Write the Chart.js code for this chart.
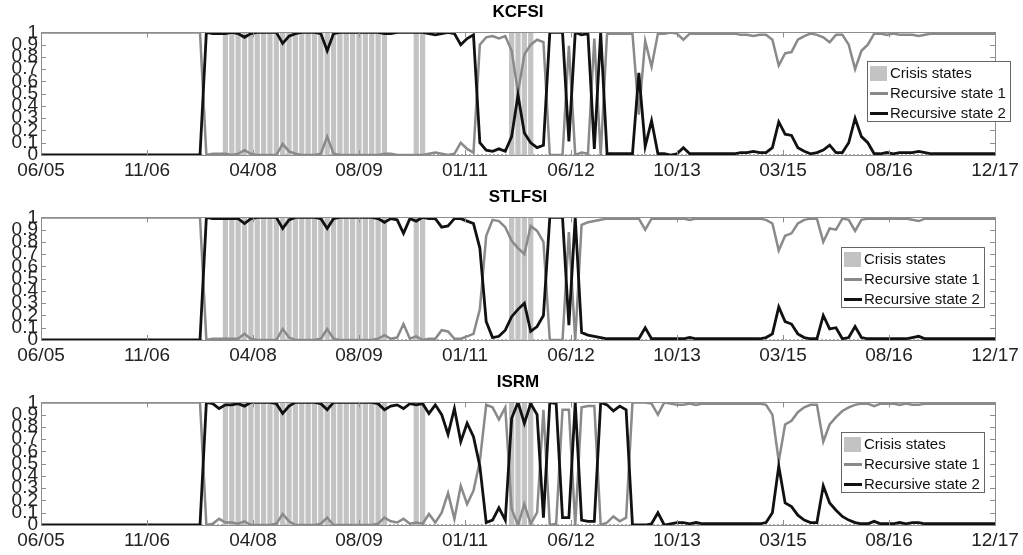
<!DOCTYPE html>
<html>
<head>
<meta charset="utf-8">
<script src="https://cdn.jsdelivr.net/npm/chart.js@4.4.0/dist/chart.umd.min.js"></script>
<style>
  html, body { margin: 0; padding: 0; background: #fff; }
  #wrap { position: relative; width: 1023px; height: 555px; }
  #wrap canvas { position: absolute; left: 0; }
  .legend {
    position: absolute; width: 144px; height: 61px; box-sizing: border-box;
    border: 1px solid #666; background: #fff; padding-top: 1px;
    font: 15px "Liberation Sans", Arial, sans-serif; color: #111;
  }
  .legend .row { position: relative; height: 20px; line-height: 20px; padding-left: 22px; white-space: nowrap; }
  .legend .sw { position: absolute; left: 2px; }
</style>
</head>
<body>
<div id="wrap">
  <canvas id="c0" width="1023" height="185" style="top:0"></canvas>
  <canvas id="c1" width="1023" height="185" style="top:185px"></canvas>
  <canvas id="c2" width="1023" height="185" style="top:370px"></canvas>
</div>
<script>
// monthly, 06/2005 .. 12/2017 (index 0..150)
const panelTitles = ['KCFSI', 'STLFSI', 'ISRM'];
const seriesNames = ['Crisis states', 'Recursive state 1', 'Recursive state 2'];

const xTickPos = [0, 16.67, 33.33, 50, 66.67, 83.33, 100, 116.67, 133.33, 150];
const xTickLabels = ['06/05', '11/06', '04/08', '08/09', '01/11', '06/12', '10/13', '03/15', '08/16', '12/17'];

// months flagged as crisis (same in all three panels)
const crisisMonths = [29, 30, 31, 32, 33, 34, 35, 36, 37, 38, 39, 40, 41, 42, 43, 44, 45, 46, 47, 48,
  49, 50, 51, 52, 53, 54, 59, 60, 74, 75, 76, 77];

const kcfsiState1 = [
  1, 1, 1, 1, 1, 1, 1, 1, 1, 1,
  1, 1, 1, 1, 1, 1, 1, 1, 1, 1,
  1, 1, 1, 1, 1, 1, 0, 0.01, 0.01, 0.01,
  0, 0.01, 0.04, 0.01, 0, 0, 0, 0, 0.09, 0.03,
  0.01, 0, 0, 0, 0.01, 0.15, 0.01, 0, 0, 0,
  0, 0, 0, 0, 0.01, 0.01, 0, 0, 0, 0,
  0, 0.01, 0.02, 0.01, 0, 0.01, 0.1, 0.05, 0.02, 0.9,
  0.96, 0.97, 0.95, 0.97, 0.85, 0.51, 0.82, 0.9, 0.94, 0.92,
  0, 0, 0, 0.89, 0, 0.02, 0.01, 0.95, 0, 0.99,
  0.99, 0.99, 0.99, 0.99, 0.33, 0.93, 0.72, 0.99, 0.99, 1,
  0.99, 0.94, 0.99, 0.99, 0.99, 0.99, 0.99, 0.99, 0.99, 0.99,
  0.98, 0.98, 0.97, 0.98, 0.98, 0.94, 0.73, 0.83, 0.84, 0.94,
  0.97, 0.99, 0.98, 0.96, 0.92, 0.98, 0.98, 0.9, 0.7, 0.85,
  0.9, 0.99, 0.99, 0.98, 0.99, 0.98, 0.98, 0.98, 0.97, 0.98,
  0.99, 0.99, 0.99, 0.99, 0.99, 0.99, 0.99, 0.99, 0.99, 0.99,
  0.99];
const kcfsiState2 = [
  0, 0, 0, 0, 0, 0, 0, 0, 0, 0,
  0, 0, 0, 0, 0, 0, 0, 0, 0, 0,
  0, 0, 0, 0, 0, 0, 1, 0.99, 0.99, 0.99,
  1, 0.99, 0.96, 0.99, 1, 1, 1, 1, 0.91, 0.97,
  0.99, 1, 1, 1, 0.99, 0.85, 0.99, 1, 1, 1,
  1, 1, 1, 1, 0.99, 0.99, 1, 1, 1, 1,
  1, 0.99, 0.98, 0.99, 1, 0.99, 0.9, 0.95, 0.98, 0.1,
  0.04, 0.03, 0.05, 0.03, 0.15, 0.49, 0.18, 0.1, 0.06, 0.08,
  1, 1, 1, 0.11, 1, 0.98, 0.99, 0.05, 1, 0.01,
  0.01, 0.01, 0.01, 0.01, 0.67, 0.07, 0.28, 0.01, 0.01, 0,
  0.01, 0.06, 0.01, 0.01, 0.01, 0.01, 0.01, 0.01, 0.01, 0.01,
  0.02, 0.02, 0.03, 0.02, 0.02, 0.06, 0.27, 0.17, 0.16, 0.06,
  0.03, 0.01, 0.02, 0.04, 0.08, 0.02, 0.02, 0.1, 0.3, 0.15,
  0.1, 0.01, 0.01, 0.02, 0.01, 0.02, 0.02, 0.02, 0.03, 0.02,
  0.01, 0.01, 0.01, 0.01, 0.01, 0.01, 0.01, 0.01, 0.01, 0.01,
  0.01];

const stlfsiState1 = [
  1, 1, 1, 1, 1, 1, 1, 1, 1, 1,
  1, 1, 1, 1, 1, 1, 1, 1, 1, 1,
  1, 1, 1, 1, 1, 1, 0, 0.01, 0.01, 0.01,
  0.01, 0.01, 0.05, 0.01, 0, 0, 0, 0, 0.09, 0.02,
  0, 0, 0, 0, 0.01, 0.09, 0.01, 0, 0, 0,
  0, 0, 0, 0.01, 0.04, 0.01, 0.02, 0.13, 0.01, 0.03,
  0, 0.01, 0.01, 0.08, 0.07, 0.01, 0.01, 0.03, 0.05, 0.25,
  0.85, 0.98, 0.97, 0.92, 0.81, 0.75, 0.7, 0.93, 0.89, 0.8,
  0, 0, 0, 0.88, 0, 0.94, 0.96, 0.97, 0.98, 0.99,
  0.99, 0.99, 0.99, 0.99, 0.99, 0.9, 0.99, 0.99, 0.99, 0.99,
  0.99, 0.99, 0.98, 0.99, 0.99, 0.99, 0.99, 0.99, 0.99, 0.99,
  0.99, 0.99, 0.99, 0.99, 0.98, 0.95, 0.73, 0.85, 0.87, 0.95,
  0.98, 0.99, 0.99, 0.8, 0.91, 0.9, 0.99, 0.98, 0.89, 0.98,
  0.99, 0.99, 0.99, 0.99, 0.99, 0.99, 0.99, 0.98, 0.97, 0.99,
  0.99, 0.99, 0.99, 0.99, 0.99, 0.99, 0.99, 0.99, 0.99, 0.99,
  0.99];
const stlfsiState2 = [
  0, 0, 0, 0, 0, 0, 0, 0, 0, 0,
  0, 0, 0, 0, 0, 0, 0, 0, 0, 0,
  0, 0, 0, 0, 0, 0, 1, 0.99, 0.99, 0.99,
  0.99, 0.99, 0.95, 0.99, 1, 1, 1, 1, 0.91, 0.98,
  1, 1, 1, 1, 0.99, 0.91, 0.99, 1, 1, 1,
  1, 1, 1, 0.99, 0.96, 0.99, 0.98, 0.87, 0.99, 0.97,
  1, 0.99, 0.99, 0.92, 0.93, 0.99, 0.99, 0.97, 0.95, 0.75,
  0.15, 0.02, 0.03, 0.08, 0.19, 0.25, 0.3, 0.07, 0.11, 0.2,
  1, 1, 1, 0.12, 1, 0.06, 0.04, 0.03, 0.02, 0.01,
  0.01, 0.01, 0.01, 0.01, 0.01, 0.1, 0.01, 0.01, 0.01, 0.01,
  0.01, 0.01, 0.02, 0.01, 0.01, 0.01, 0.01, 0.01, 0.01, 0.01,
  0.01, 0.01, 0.01, 0.01, 0.02, 0.05, 0.27, 0.15, 0.13, 0.05,
  0.02, 0.01, 0.01, 0.2, 0.09, 0.1, 0.01, 0.02, 0.11, 0.02,
  0.01, 0.01, 0.01, 0.01, 0.01, 0.01, 0.01, 0.02, 0.03, 0.01,
  0.01, 0.01, 0.01, 0.01, 0.01, 0.01, 0.01, 0.01, 0.01, 0.01,
  0.01];

const isrmState1 = [
  1, 1, 1, 1, 1, 1, 1, 1, 1, 1,
  1, 1, 1, 1, 1, 1, 1, 1, 1, 1,
  1, 1, 1, 1, 1, 1, 0, 0.01, 0.05, 0.02,
  0.02, 0.01, 0.03, 0, 0, 0, 0, 0.01, 0.09, 0.03,
  0, 0, 0, 0, 0.01, 0.06, 0, 0, 0, 0,
  0, 0, 0, 0.01, 0.06, 0.03, 0.02, 0.05, 0.01, 0.02,
  0.01, 0.09, 0.02, 0.1, 0.26, 0.05, 0.32, 0.17, 0.28, 0.52,
  0.98, 0.96, 0.86, 0.96, 0.13, 0, 0.17, 0.01, 0.1, 0.94,
  0, 0.01, 0.94, 0.94, 0, 0.96, 0.97, 0.97, 0, 0.02,
  0.07, 0.03, 0.06, 1, 1, 1, 0.99, 0.9, 1, 0.99,
  0.98, 0.98, 0.99, 0.98, 0.99, 0.99, 0.99, 0.99, 0.99, 0.99,
  0.99, 0.99, 0.99, 0.99, 0.98, 0.9, 0.52, 0.82, 0.85, 0.92,
  0.96, 0.98, 0.98, 0.68, 0.82, 0.88, 0.93, 0.96, 0.98, 0.99,
  0.99, 0.97, 0.99, 0.99, 0.99, 0.98, 0.99, 0.98, 0.98, 0.99,
  0.99, 0.99, 0.99, 0.99, 0.99, 0.99, 0.99, 0.99, 0.99, 0.99,
  0.99];
const isrmState2 = [
  0, 0, 0, 0, 0, 0, 0, 0, 0, 0,
  0, 0, 0, 0, 0, 0, 0, 0, 0, 0,
  0, 0, 0, 0, 0, 0, 1, 0.99, 0.95, 0.98,
  0.98, 0.99, 0.97, 1, 1, 1, 1, 0.99, 0.91, 0.97,
  1, 1, 1, 1, 0.99, 0.94, 1, 1, 1, 1,
  1, 1, 1, 0.99, 0.94, 0.97, 0.98, 0.95, 0.99, 0.98,
  0.99, 0.91, 0.98, 0.9, 0.74, 0.95, 0.68, 0.83, 0.72, 0.48,
  0.02, 0.04, 0.14, 0.04, 0.87, 1, 0.83, 0.99, 0.9, 0.06,
  1, 0.99, 0.06, 0.06, 1, 0.04, 0.03, 0.03, 1, 0.98,
  0.93, 0.97, 0.94, 0, 0, 0, 0.01, 0.1, 0, 0.01,
  0.02, 0.02, 0.01, 0.02, 0.01, 0.01, 0.01, 0.01, 0.01, 0.01,
  0.01, 0.01, 0.01, 0.01, 0.02, 0.1, 0.48, 0.18, 0.15, 0.08,
  0.04, 0.02, 0.02, 0.32, 0.18, 0.12, 0.07, 0.04, 0.02, 0.01,
  0.01, 0.03, 0.01, 0.01, 0.01, 0.02, 0.01, 0.02, 0.02, 0.01,
  0.01, 0.01, 0.01, 0.01, 0.01, 0.01, 0.01, 0.01, 0.01, 0.01,
  0.01];

const panels = [
  { title: panelTitles[0], s1: kcfsiState1, s2: kcfsiState2, legend: [867, 61] },
  { title: panelTitles[1], s1: stlfsiState1, s2: stlfsiState2, legend: [841, 247] },
  { title: panelTitles[2], s1: isrmState1, s2: isrmState2, legend: [841, 432] },
];

const FONT = '"Liberation Sans", Arial, sans-serif';
const GRAY_LINE = '#8a8a8a';
const BLACK_LINE = '#111111';
const CRISIS = '#c3c3c3';

// box around the plot + inward tick marks (matlab look)
const framePlugin = {
  id: 'frame',
  beforeDatasetsDraw(chart) {
    const { ctx, chartArea: a, scales: { y } } = chart;
    const y0 = Math.round(y.getPixelForValue(0)) - 0.5;
    ctx.save();
    ctx.strokeStyle = '#b5b5b5';
    ctx.lineWidth = 1;
    ctx.setLineDash([2, 2]);
    ctx.beginPath();
    ctx.moveTo(a.left, y0);
    ctx.lineTo(a.right, y0);
    ctx.stroke();
    ctx.restore();
  },
  afterDatasetsDraw(chart) {
    const { ctx, chartArea: a, scales: { x, y } } = chart;
    ctx.save();
    ctx.strokeStyle = '#8e8e8e';
    ctx.lineWidth = 1;
    ctx.strokeRect(Math.round(a.left) + 0.5, Math.round(a.top) + 0.5,
      Math.round(a.right - a.left), Math.round(a.bottom - a.top));
    ctx.beginPath();
    xTickPos.forEach((v) => {
      const px = Math.round(x.getPixelForValue(v)) + 0.5;
      ctx.moveTo(px, a.bottom); ctx.lineTo(px, a.bottom - 5);
      ctx.moveTo(px, a.top); ctx.lineTo(px, a.top + 5);
    });
    y.ticks.forEach((t) => {
      const py = Math.round(y.getPixelForValue(t.value)) + 0.5;
      ctx.moveTo(a.left, py); ctx.lineTo(a.left + 5, py);
      ctx.moveTo(a.right, py); ctx.lineTo(a.right - 5, py);
    });
    ctx.stroke();
    ctx.restore();
  },
};

function makeLegend(left, top) {
  const box = document.createElement('div');
  box.className = 'legend';
  box.style.left = left + 'px';
  box.style.top = top + 'px';
  const swatches = [
    `background:${CRISIS};top:3px;width:17px;height:15px`,
    `background:${GRAY_LINE};top:9px;width:18px;height:3px`,
    `background:${BLACK_LINE};top:9px;width:18px;height:3px`,
  ];
  seriesNames.forEach((name, i) => {
    const row = document.createElement('div');
    row.className = 'row';
    row.innerHTML = `<span class="sw" style="${swatches[i]}"></span>${name}`;
    box.appendChild(row);
  });
  document.getElementById('wrap').appendChild(box);
}

panels.forEach((p, k) => {
  new Chart(document.getElementById('c' + k), {
    type: 'line',
    data: {
      datasets: [
        {
          type: 'bar',
          label: seriesNames[0],
          data: crisisMonths.map((m) => ({ x: m, y: 1 })),
          backgroundColor: CRISIS,
          borderWidth: 0,
          barPercentage: 0.82,
          categoryPercentage: 1,
          order: 3,
        },
        {
          label: seriesNames[1],
          data: p.s1.map((v, i) => ({ x: i, y: v })),
          borderColor: GRAY_LINE,
          borderWidth: 2.5,
          pointRadius: 0,
          tension: 0,
          order: 2,
        },
        {
          label: seriesNames[2],
          data: p.s2.map((v, i) => ({ x: i, y: v })),
          borderColor: BLACK_LINE,
          borderWidth: 2.8,
          pointRadius: 0,
          tension: 0,
          order: 1,
        },
      ],
    },
    options: {
      responsive: false,
      animation: false,
      layout: { padding: { left: 0, right: 28, top: 0, bottom: 0 } },
      plugins: {
        legend: { display: false },
        tooltip: { enabled: false },
        title: {
          display: true,
          text: p.title,
          fullSize: false,
          color: '#000',
          font: { family: FONT, size: 17, weight: 'bold' },
          padding: { top: 2, bottom: 10 },
        },
      },
      scales: {
        x: {
          type: 'linear',
          min: 0,
          max: 150,
          offset: false,
          grid: { display: false, drawTicks: false },
          border: { display: false },
          afterBuildTicks: (s) => { s.ticks = xTickPos.map((v) => ({ value: v })); },
          afterFit: (s) => { s.height = 30; s.paddingLeft = 0; s.paddingRight = 0; },
          ticks: {
            autoSkip: false,
            maxRotation: 0,
            padding: 4,
            color: '#222',
            font: { family: FONT, size: 19 },
            callback: (v, i) => xTickLabels[i],
          },
        },
        y: {
          min: 0,
          max: 1,
          grid: { display: false, drawTicks: false },
          border: { display: false },
          afterFit: (s) => { s.width = 41; s.paddingTop = 0; s.paddingBottom = 0; },
          ticks: {
            stepSize: 0.1,
            autoSkip: false,
            padding: 3,
            color: '#222',
            font: { family: FONT, size: 19 },
            callback: (v) => String(Math.round(v * 10) / 10),
          },
        },
      },
    },
    plugins: [framePlugin],
  });
  makeLegend(p.legend[0], p.legend[1]);
});
</script>
</body>
</html>
